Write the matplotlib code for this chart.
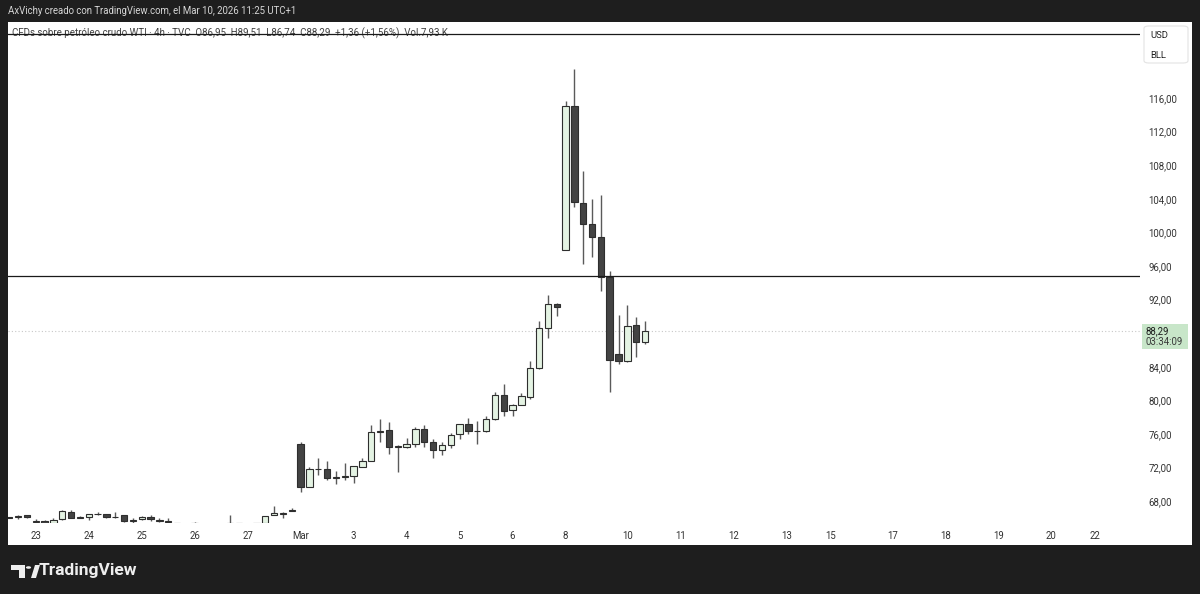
import numpy as np
import matplotlib
matplotlib.use("Agg")
import matplotlib.pyplot as plt
from matplotlib.patches import Rectangle, FancyBboxPatch, Polygon, Circle

# ---------------- data (4h candles, WTI CFD), first candle is bar -3 ----------------
opens = [66.05, 66.10, 66.33, 65.55, 65.68, 65.45, 65.85, 66.75, 66.05, 66.10,
         66.45, 66.45, 66.10, 66.30, 65.70, 65.85, 66.15, 65.70, 65.70, 65.35,
         65.30, 65.35, 65.30, 65.30, 65.25, 65.25, 65.40, 65.30, 65.25, 65.45,
         66.40, 66.50, 66.85,
         74.80, 69.75, 71.80, 71.80, 70.80, 70.85, 71.00, 72.10, 72.80, 76.20,
         76.45, 74.45, 74.50, 74.80, 76.60, 75.05, 74.10, 74.70, 76.00, 77.20,
         76.30, 76.30, 77.75, 80.60, 78.85, 79.45, 80.45, 83.80, 88.60, 91.45,
         97.90, 115.00, 103.55, 101.00, 99.50, 94.75, 85.50, 84.75, 88.95, 86.95]
highs = [66.15, 66.40, 66.40, 65.85, 65.72, 66.05, 66.95, 66.95, 66.20, 66.50,
         66.70, 66.50, 66.70, 66.35, 66.00, 66.20, 66.30, 65.95, 65.95, 65.45,
         65.42, 65.50, 65.42, 65.42, 65.30, 66.35, 65.45, 65.30, 65.45, 66.25,
         67.45, 66.75, 67.15,
         75.10, 72.10, 73.20, 72.80, 71.63, 72.50, 72.25, 73.20, 77.10, 77.75,
         77.40, 74.70, 75.50, 76.80, 77.05, 75.40, 75.00, 76.10, 77.25, 77.87,
         77.50, 78.10, 81.05, 81.95, 79.60, 80.85, 84.70, 89.50, 92.55, 91.60,
         115.60, 119.50, 107.30, 103.95, 104.45, 95.40, 90.15, 91.35, 89.90, 89.51]
lows = [65.95, 65.85, 66.05, 65.30, 65.40, 65.40, 65.80, 65.95, 65.95, 65.80,
        66.30, 66.05, 65.95, 65.50, 65.35, 65.80, 65.60, 65.50, 65.40, 65.00,
        65.10, 65.05, 65.10, 65.10, 65.00, 65.20, 65.20, 65.10, 65.10, 65.40,
        66.35, 65.95, 66.80,
        69.10, 69.70, 71.10, 70.50, 70.05, 70.50, 70.20, 72.05, 72.75, 75.10,
        73.60, 71.45, 74.35, 74.50, 74.50, 73.20, 73.55, 74.30, 75.40, 76.00,
        74.80, 76.25, 77.70, 78.14, 78.15, 79.40, 80.15, 83.70, 87.40, 90.10,
        97.85, 103.05, 96.20, 97.10, 93.05, 81.05, 84.30, 84.60, 85.15, 86.74]
closes = [66.00, 66.25, 66.08, 65.56, 65.45, 65.75, 66.80, 66.00, 66.10, 66.45,
          66.50, 66.10, 66.15, 65.70, 65.75, 66.15, 65.85, 65.70, 65.50, 65.20,
          65.25, 65.40, 65.20, 65.20, 65.15, 65.40, 65.30, 65.25, 65.42, 66.20,
          66.65, 66.55, 67.00,
          69.75, 71.80, 71.85, 70.80, 70.85, 70.95, 72.20, 72.80, 76.20, 76.40,
          74.40, 74.55, 74.80, 76.60, 75.00, 74.10, 74.70, 75.90, 77.20, 76.30,
          76.40, 77.75, 80.65, 78.70, 79.45, 80.50, 83.80, 88.60, 91.45, 91.15,
          115.00, 103.65, 100.95, 99.50, 94.75, 84.80, 84.70, 88.90, 86.93, 88.29]
first_index = -3

day_labels = ["23", "24", "25", "26", "27", "Mar", "3", "4", "5", "6", "8",
              "10", "11", "12", "13", "15", "17", "18", "19", "20", "22"]
day_label_bars = [0, 6, 12, 18, 24, 30, 36, 42, 48, 54, 60,
                  67, 73, 79, 85, 90, 97, 103, 109, 115, 120]

price_ticks = [68, 72, 76, 80, 84, 92, 96, 100, 104, 108, 112, 116]
h_line_levels = [94.8, 123.62]
last_price = 88.29
countdown = "03:34:09"

header = "AxVichy creado con TradingView.com, el Mar 10, 2026 11:25 UTC+1"
legend_line = ("CFDs sobre petróleo crudo WTI · 4h · TVC  O86,95  H89,51  "
               "L86,74  C88,29  +1,36 (+1,56%)  Vol.7,93 K")

# ---------------- figure ----------------
W, H = 1200, 594
plt.rcParams["font.family"] = ["Roboto", "DejaVu Sans"]
fig = plt.figure(figsize=(W / 100, H / 100), dpi=100)
fig.patch.set_facecolor("#1e1e1e")


def fx(x):
    return x / W


def fy(y):
    return 1 - y / H


# white panel (behind everything)
fig.patches.append(Rectangle((fx(8), fy(545)), fx(1192) - fx(8), fy(22) - fy(545),
                             transform=fig.transFigure, facecolor="white",
                             edgecolor="none", zorder=-5))

ax_l, ax_r, ax_t, ax_b = 8, 1140, 22, 523
ax = fig.add_axes([fx(ax_l), fy(ax_b), fx(ax_r) - fx(ax_l), fy(ax_t) - fy(ax_b)])
ax.set_zorder(2)
ax.patch.set_alpha(0)

y_top = 116 + (98 - ax_t) / 8.4
y_bot = 116 - (ax_b - 98) / 8.4
ax.set_ylim(y_bot, y_top)
ax.set_xlim(-3.14, 125.06)

o = np.array(opens)
h = np.array(highs)
lo = np.array(lows)
c = np.array(closes)
x = np.arange(len(c)) + first_index

up = c >= o
bull_fill = "#e4f3e3"
bear_fill = "#434343"
edge = "#2e2e2e"
wick = "#5a5a5a"

ax.vlines(x, lo, h, color=wick, linewidth=1.0, zorder=2)
bottom = np.minimum(o, c)
height = np.maximum(np.abs(c - o), 0.06)
ax.bar(x[up], height[up], bottom=bottom[up], width=0.72, color=bull_fill,
       edgecolor=edge, linewidth=0.8, zorder=3)
ax.bar(x[~up], height[~up], bottom=bottom[~up], width=0.72, color=bear_fill,
       edgecolor=edge, linewidth=0.8, zorder=3)

for lvl in h_line_levels:
    ax.axhline(lvl, color="#1a1a1a", linewidth=0.9, zorder=4)

ax.axhline(last_price, color="#c8c8c8", linewidth=0.8, linestyle=(0, (1, 2)), zorder=1)

for s in ax.spines.values():
    s.set_visible(False)

ax.yaxis.tick_right()
ax.set_yticks(price_ticks)
ax.set_yticklabels([f"{v:.2f}".replace(".", ",") for v in price_ticks])
ax.tick_params(axis="y", length=0, pad=6, labelsize=6.9, labelcolor="#333333")
ax.set_xticks(day_label_bars)
ax.set_xticklabels(day_labels)
ax.tick_params(axis="x", length=0, pad=6, labelsize=6.9, labelcolor="#333333")

# header texts
fig.text(fx(8), fy(11), header, color="#d6d6d6", fontsize=6.9, va="center", ha="left")
fig.text(fx(12), fy(33), legend_line, color="#404040", fontsize=7.0, va="center", ha="left",
         zorder=1)

# currency / unit box
fig.patches.append(FancyBboxPatch((fx(1144), fy(63)), fx(1188) - fx(1144), fy(26) - fy(63),
                                  boxstyle="round,pad=0,rounding_size=0.004",
                                  transform=fig.transFigure, facecolor="white",
                                  edgecolor="#e3e3e3", linewidth=0.8, zorder=5))
fig.text(fx(1150), fy(35), "USD", color="#222222", fontsize=6.8, va="center", ha="left", zorder=6)
fig.text(fx(1150), fy(56), "BLL", color="#222222", fontsize=6.8, va="center", ha="left", zorder=6)

# last price label
yl = 98 + (116 - last_price) * 8.4
fig.patches.append(Rectangle((fx(1142), fy(yl + 18)), fx(1188) - fx(1142), fy(yl - 7) - fy(yl + 18),
                             transform=fig.transFigure, facecolor="#c8e6c9",
                             edgecolor="none", zorder=5))
fig.text(fx(1146), fy(yl), f"{last_price:.2f}".replace(".", ","), color="#1c1c1c",
         fontsize=6.9, va="center", ha="left", zorder=6)
fig.text(fx(1146), fy(yl + 11), countdown, color="#3a3a3a", fontsize=6.9,
         va="center", ha="left", zorder=6)

# TradingView logo
logo_col = "#eeeeee"
fig.patches.append(Polygon([(fx(11), fy(565)), (fx(25), fy(565)), (fx(25), fy(578)),
                            (fx(19), fy(578)), (fx(19), fy(570)), (fx(11), fy(570))],
                           closed=True, transform=fig.transFigure, facecolor=logo_col,
                           edgecolor="none"))
fig.patches.append(Circle((fx(28.5), fy(567.5)), 2.6 / W, transform=fig.transFigure,
                          facecolor=logo_col, edgecolor="none"))
fig.patches.append(Polygon([(fx(31), fy(578)), (fx(35), fy(565)), (fx(40), fy(565)),
                            (fx(36), fy(578))],
                           closed=True, transform=fig.transFigure, facecolor=logo_col,
                           edgecolor="none"))
fig.text(fx(39), fy(571), "TradingView", color=logo_col, fontsize=12.5, fontweight="bold",
         va="center", ha="left")

fig.savefig("out.png", dpi=100, facecolor=fig.get_facecolor())
